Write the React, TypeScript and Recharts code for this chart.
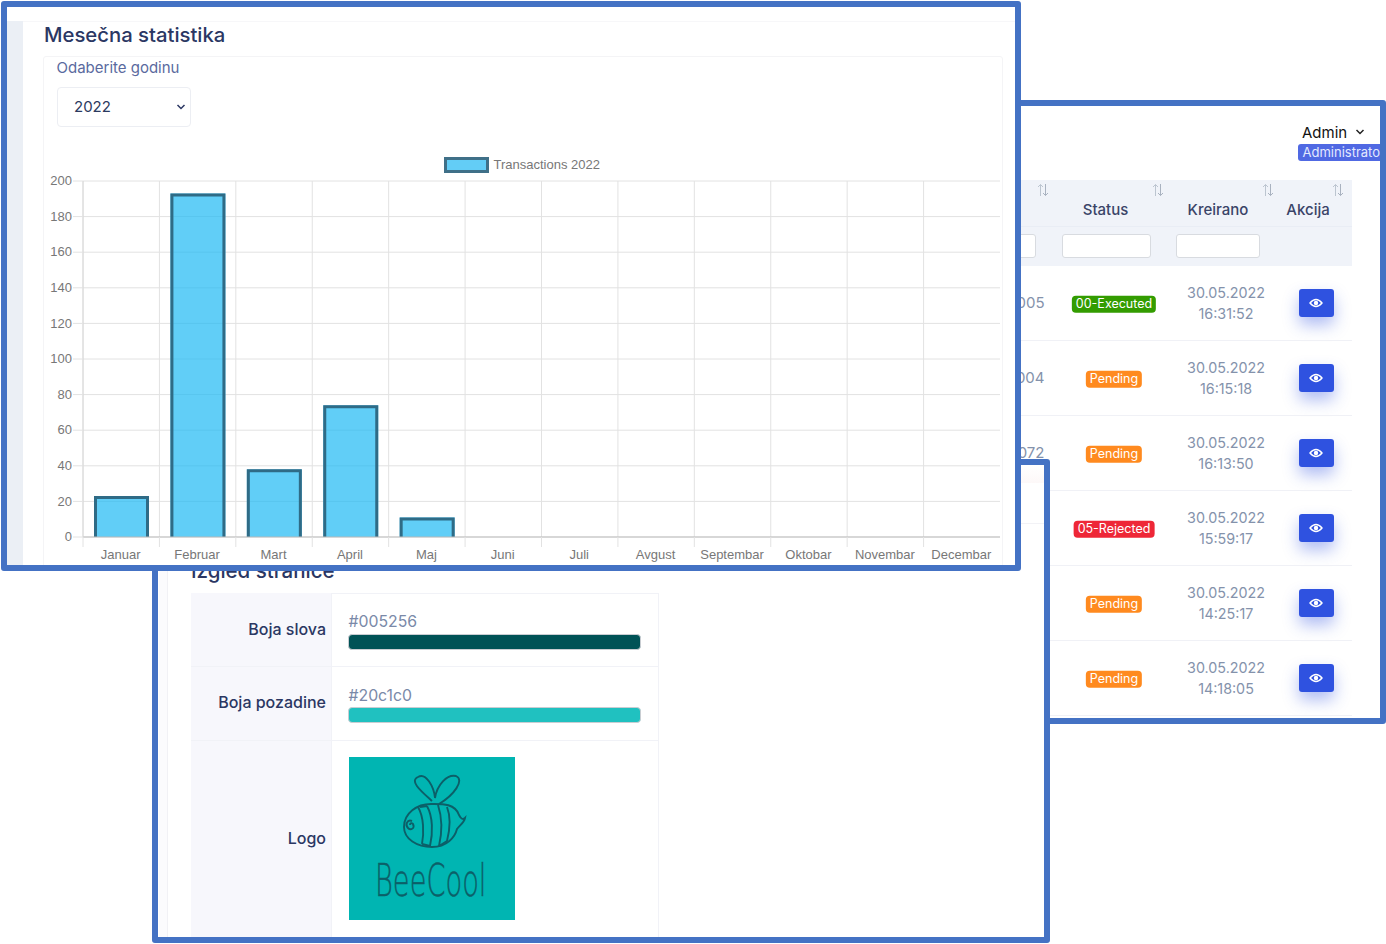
import React from 'react';
import { BarChart, Bar, XAxis, YAxis, CartesianGrid, Legend } from 'recharts';

const months = ['Januar', 'Februar', 'Mart', 'April', 'Maj', 'Juni', 'Juli', 'Avgust', 'Septembar', 'Oktobar', 'Novembar', 'Decembar'];
const transactions = [23, 193, 38, 74, 11, 0, 0, 0, 0, 0, 0, 0];
const yTicks = [0, 20, 40, 60, 80, 100, 120, 140, 160, 180, 200];
const seriesName = 'Transactions 2022';

const rowIds = ['005', '004', '072', '', '', ''];
const rowStatus = ['00-Executed', 'Pending', 'Pending', '05-Rejected', 'Pending', 'Pending'];
const rowDates = ['30.05.2022', '30.05.2022', '30.05.2022', '30.05.2022', '30.05.2022', '30.05.2022'];
const rowTimes = ['16:31:52', '16:15:18', '16:13:50', '15:59:17', '14:25:17', '14:18:05'];
const tableHeads = ['Status', 'Kreirano', 'Akcija'];

const uiFont = 'Inter, "Noto Sans", sans-serif';
const chartFont = '"Liberation Sans", Arial, sans-serif';
const frameBlue = '#4472c4';
const navy = '#2b3763';

const statusColor = (s: string) => (s.startsWith('00') ? '#339c00' : s.startsWith('05') ? '#ee2737' : '#ff8a1f');

// text placed by its vertical centre, in page coordinates
const T = ({ x, y, align = 'left', size = 15, weight = 400, color = navy, font = uiFont, children }: any) => {
  const tx = align === 'center' ? '-50%' : align === 'right' ? '-100%' : '0';
  return (
    <div style={{
      position: 'absolute', left: x, top: y, transform: `translate(${tx}, -50%)`,
      fontSize: size, fontWeight: weight, color, fontFamily: font, whiteSpace: 'nowrap', lineHeight: 1.2
    }}>
      {children}
    </div>
  );
};

const Box = ({ x, y, w, h, style }: any) => (
  <div style={{ position: 'absolute', left: x, top: y, width: w, height: h, boxSizing: 'border-box', ...style }} />
);

// blue outlined panel, children use page coordinates and get clipped to it
const Frame = ({ left, top, right, bottom, z, children }: any) => (
  <div style={{
    position: 'absolute', left, top, width: right - left, height: bottom - top, zIndex: z,
    border: `6px solid ${frameBlue}`, borderRadius: 3, boxSizing: 'border-box', background: '#fff', overflow: 'hidden'
  }}>
    <div style={{ position: 'absolute', left: -(left + 6), top: -(top + 6), width: 1386, height: 944 }}>
      {children}
    </div>
  </div>
);

const Chevron = ({ x, y, color = navy }: any) => (
  <svg style={{ position: 'absolute', left: x - 5, top: y - 4 }} width={10} height={8}>
    <path d="M1.5 2 L5 5.5 L8.5 2" fill="none" stroke={color} strokeWidth={1.5} />
  </svg>
);

const SortIcon = ({ x, y }: any) => (
  <svg style={{ position: 'absolute', left: x - 6, top: y - 7 }} width={12} height={14}>
    <path d="M3.5 13 V1.5 M1 4 L3.5 1.5 L6 4" fill="none" stroke="#bcc5d0" strokeWidth={1} />
    <path d="M8.5 1 V12.5 M6 10 L8.5 12.5 L11 10" fill="none" stroke="#a9b2c0" strokeWidth={1} />
  </svg>
);

const EyeButton = ({ y }: any) => (
  <div style={{
    position: 'absolute', left: 1299, top: y - 14, width: 34.5, height: 27.5, borderRadius: 3,
    background: '#2f52e0', boxShadow: '0 8px 16px rgba(47,82,224,0.38)',
    display: 'flex', alignItems: 'center', justifyContent: 'center'
  }}>
    <svg width={14} height={10}>
      <path d="M1 5 Q7 -2 13 5 Q7 12 1 5 Z" fill="none" stroke="#fff" strokeWidth={1.4} />
      <circle cx={7} cy={5} r={2.2} fill="#fff" />
    </svg>
  </div>
);

// chart.js style bar: border inside the box, bottom edge left open
const OpenBar = ({ x, y, width, height }: any) => {
  if (!height || height <= 0) return null;
  const b = y + height;
  return (
    <g>
      <rect x={x} y={y} width={width} height={height} fill="rgb(30,185,243)" fillOpacity={0.7} />
      <path
        d={`M${x + 1.5} ${b} V${y + 1.5} H${x + width - 1.5} V${b}`}
        fill="none" stroke="#2f6b86" strokeWidth={3}
      />
    </g>
  );
};

const MonthTick = ({ x, y, width, payload }: any) => {
  const band = (width || 917) / months.length;
  return (
    <g>
      <line x1={x - band / 2} x2={x - band / 2} y1={y} y2={y + 10} stroke="#e2e2e2" />
      <text x={x - 0.5} y={y + 21.5} textAnchor="middle" fontSize={13} fill="#777" fontFamily={chartFont}>{payload.value}</text>
    </g>
  );
};

const LegendBox = ({ payload }: any) => (
  <div style={{ display: 'flex', alignItems: 'center' }}>
    <div style={{ width: 45, height: 16, boxSizing: 'border-box', border: '3px solid #3f7088', background: '#63cdf6' }} />
    <span style={{ marginLeft: 5, fontSize: 13, color: '#777', fontFamily: chartFont, whiteSpace: 'nowrap' }}>
      {payload?.[0]?.value}
    </span>
  </div>
);

const MonthlyChart = () => {
  const data = months.map((m, i) => ({ month: m, value: transactions[i] }));
  return (
    <div style={{ position: 'absolute', left: 0, top: 0 }}>
      <BarChart width={1000} height={565} data={data} barSize={55} margin={{ top: 181, right: 0, bottom: 0, left: 0 }}>
        <CartesianGrid
          stroke="#e2e2e2"
          verticalCoordinatesGenerator={({ offset }: any) => months.map((_, i) => offset.left + (i * offset.width) / months.length)}
        />
        <XAxis dataKey="month" height={28} interval={0} tickLine={false} tickSize={0} tickMargin={0} axisLine={{ stroke: '#bdbdbd' }} tick={<MonthTick />} />
        <YAxis
          width={83}
          domain={[0, 200]}
          ticks={yTicks}
          interval={0}
          tickSize={10}
          tickMargin={1}
          tickLine={{ stroke: '#e2e2e2' }}
          axisLine={{ stroke: '#d8d8d8' }}
          tick={{ fontSize: 13, fill: '#777', fontFamily: chartFont, dy: -0.5 }}
        />
        {/* verticalAlign middle: the legend reserves no height, it floats above the plot */}
        <Legend
          content={<LegendBox />}
          layout="horizontal"
          verticalAlign="middle"
          wrapperStyle={{ position: 'absolute', left: 443.5, top: 156.5, width: 'auto', bottom: 'auto' }}
        />
        <Bar dataKey="value" name={seriesName} shape={<OpenBar />} isAnimationActive={false} />
      </BarChart>
    </div>
  );
};

const TablePanel = () => (
  <Frame left={1015} top={100} right={1386} bottom={724} z={1}>
    <T x={1302} y={132.5} size={15} color="#111">Admin</T>
    <Chevron x={1360} y={132} color="#222" />
    <Box x={1298} y={144} w={90} h={16.5} style={{ background: '#5069e3', borderRadius: 3 }} />
    <T x={1302.5} y={152.5} size={13} color="#e3e8ff">Administrator</T>

    <Box x={1000} y={179.5} w={352} h={86} style={{ background: '#f0f3f9' }} />
    <Box x={1000} y={225.5} w={352} h={1.5} style={{ background: '#e9edf5' }} />
    <SortIcon x={1043} y={190} />
    <SortIcon x={1158} y={190} />
    <SortIcon x={1267.5} y={190} />
    <SortIcon x={1338} y={190} />
    <T x={1105.5} y={210} align="center" size={15} weight={500} color="#3a4468">{tableHeads[0]}</T>
    <T x={1218} y={210} align="center" size={15} weight={500} color="#3a4468">{tableHeads[1]}</T>
    <T x={1308} y={210} align="center" size={15} weight={500} color="#3a4468">{tableHeads[2]}</T>
    <Box x={1000} y={233.5} w={36} h={24.5} style={{ background: '#fff', border: '1px solid #d8dbe0', borderRadius: 3 }} />
    <Box x={1061.5} y={233.5} w={89} h={24.5} style={{ background: '#fff', border: '1px solid #d8dbe0', borderRadius: 3 }} />
    <Box x={1176} y={233.5} w={84} h={24.5} style={{ background: '#fff', border: '1px solid #d8dbe0', borderRadius: 3 }} />

    {rowStatus.map((s, i) => {
      const cy = 303 + i * 75;
      return (
        <React.Fragment key={i}>
          <T x={1044.5} y={cy} align="right" size={15} color="#8492ab">{rowIds[i]}</T>
          <div style={{
            position: 'absolute', left: 1114, top: cy + 1, transform: 'translate(-50%, -50%)',
            background: statusColor(s), color: '#fff', borderRadius: 4, padding: '0 4px', height: 16.5, lineHeight: '16.5px',
            fontSize: 12.5, fontFamily: uiFont, whiteSpace: 'nowrap'
          }}>
            {s}
          </div>
          <T x={1226} y={cy - 10.5} align="center" size={14.3} color="#8492ab">{rowDates[i]}</T>
          <T x={1226} y={cy + 10.5} align="center" size={14.3} color="#8492ab">{rowTimes[i]}</T>
          <EyeButton y={cy} />
          <Box x={1000} y={cy + 37} w={352} h={1} style={{ background: '#f0f1f6' }} />
        </React.Fragment>
      );
    })}
  </Frame>
);

const BeeLogo = () => (
  <svg style={{ position: 'absolute', left: 348.5, top: 757 }} width={166} height={163}>
    <rect width={166} height={163} fill="#00b5b2" />
    <g fill="none" stroke="#0c5f68" strokeWidth={1.9}>
      <path d="M83 44 C72 34 60 24 69 20 C77 15 85 30 86 41 C88 28 98 17 107 19 C116 23 105 38 90 47" />
      <path d="M110 58 C106 46 92 47 82 47 C68 47 55 56 55 70 C55 82 68 90 83 90 C98 90 106 80 108 72 C110 69 115 66 116 61 C114 63 112 62 110 58 Z" />
      <path d="M69 50 C75 60 75 76 73 87 M78 49 C84 60 84 76 81 89 M89 48 C93 60 93 76 90 89 M98 50 C102 60 101 72 98 84 M71 50 L78 49 M73 87 L81 89 M90 89 L98 84" />
      <path d="M63 64 C58 62 56 68 59 71 C62 74 66 71 64 67 C62 65 61 67 61 68" />
    </g>
    <text transform="translate(26,139) scale(0.62,1)" fontFamily='"DejaVu Sans", sans-serif' fontWeight={200} fontSize={44}
      fill="#0c5f68" stroke="#0c5f68" strokeWidth={0.4}>
      BeeCool
    </text>
  </svg>
);

const SettingsPanel = () => (
  <Frame left={152} top={459} right={1050} bottom={943} z={2}>
    <Box x={159} y={460} w={9} h={484} style={{ background: '#fbfbfd', borderRight: '1px solid #f1f1f5' }} />
    <Box x={1021} y={523} w={23} h={1} style={{ background: '#f2f2f6' }} />
    <Box x={1021} y={465} w={23} h={18} style={{ background: 'linear-gradient(#ffffff, #fdf8f8)' }} />
    {/* the stats panel covers the top of this title, only its lower half shows */}
    <div style={{ position: 'absolute', left: 191, top: 571, width: 300, height: 14, overflow: 'hidden' }}>
      <T x={0} y={-0.5} size={20.5} weight={500}>Izgled stranice</T>
    </div>

    <Box x={191} y={593} w={468} h={350} style={{ border: '1px solid #f1f2f7' }} />
    <Box x={191} y={593} w={141} h={350} style={{ background: '#f7f7fc', borderRight: '1px solid #f1f2f7' }} />
    <Box x={191} y={666} w={468} h={1} style={{ background: '#f1f2f7' }} />
    <Box x={191} y={739.5} w={468} h={1} style={{ background: '#f1f2f7' }} />

    <T x={326} y={630} align="right" size={16} weight={500}>Boja slova</T>
    <T x={326} y={703} align="right" size={16} weight={500}>Boja pozadine</T>
    <T x={326} y={838.5} align="right" size={16} weight={500}>Logo</T>

    <T x={348.5} y={621.5} size={15.8} color="#7a89a8">#005256</T>
    <Box x={348} y={633.5} w={293} h={16.5} style={{ background: '#005256', borderRadius: 4, border: '1px solid #c9cdd2' }} />
    <T x={348.5} y={695.5} size={15.8} color="#7a89a8">#20c1c0</T>
    <Box x={348} y={706.5} w={293} h={16.5} style={{ background: '#20c1c0', borderRadius: 4, border: '1px solid #c9cdd2' }} />
    <BeeLogo />
  </Frame>
);

const StatsPanel = () => (
  <Frame left={1} top={1} right={1021} bottom={571} z={3}>
    <Box x={7} y={21} w={16} h={560} style={{ background: '#ebeff5' }} />
    <Box x={23} y={21} w={1000} h={1} style={{ background: '#f7f7f9' }} />
    <Box x={43} y={56} w={960} h={520} style={{ background: '#fff', border: '1px solid #f4f4f6', borderRadius: 3 }} />
    <T x={44} y={34.5} size={20.3} weight={500}>Mesečna statistika</T>
    <T x={56.5} y={68} size={15} color="#5a6a9e">Odaberite godinu</T>
    <Box x={56.5} y={87} w={134} h={39.5} style={{ background: '#fff', border: '1px solid #eceef3', borderRadius: 4 }} />
    <T x={74} y={106.5} size={15} color="#2c3a60">2022</T>
    <Chevron x={180.5} y={107} />
    <MonthlyChart />
  </Frame>
);

export default function App() {
  return (
    <div style={{ position: 'absolute', left: 0, top: 0, width: 1386, height: 944, background: '#fff', overflow: 'hidden' }}>
      <TablePanel />
      <SettingsPanel />
      <StatsPanel />
    </div>
  );
}
